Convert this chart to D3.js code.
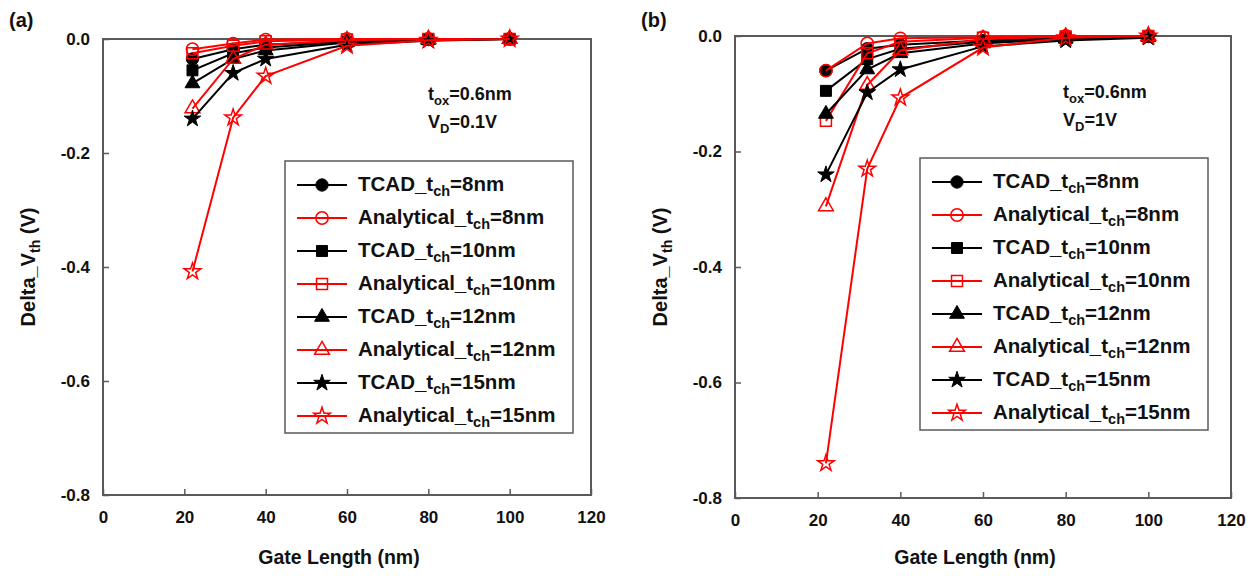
<!DOCTYPE html>
<html>
<head>
<meta charset="utf-8">
<script src="https://cdn.jsdelivr.net/npm/d3@7"></script>
<style>
  body { margin: 0; background: #fff; }
  text { font-family: "Liberation Sans", Arial, sans-serif; font-weight: bold; }
</style>
</head>
<body>
<div id="chart"></div>
<script>
// gate lengths (nm) shared by every series
const gateLength = [22, 32, 40, 60, 80, 100];

// panel (a): VD = 0.1V
const a_tcad8  = [-0.035, -0.018, -0.010, -0.004, -0.001, 0];
const a_ana8   = [-0.018, -0.008, -0.001, 0, 0, 0];
const a_tcad10 = [-0.055, -0.025, -0.015, -0.005, -0.001, 0];
const a_ana10  = [-0.025, -0.012, -0.004, -0.001, 0, 0];
const a_tcad12 = [-0.078, -0.035, -0.020, -0.006, -0.002, 0];
const a_ana12  = [-0.122, -0.035, -0.010, -0.002, 0, 0];
const a_tcad15 = [-0.140, -0.060, -0.035, -0.010, -0.003, 0];
const a_ana15  = [-0.408, -0.138, -0.065, -0.012, -0.002, 0];

// panel (b): VD = 1V
const b_tcad8  = [-0.060, -0.022, -0.015, -0.008, -0.003, -0.001];
const b_ana8   = [-0.060, -0.013, -0.004, -0.002, 0, 0];
const b_tcad10 = [-0.095, -0.040, -0.022, -0.010, -0.004, -0.001];
const b_ana10  = [-0.147, -0.030, -0.010, -0.003, -0.001, 0];
const b_tcad12 = [-0.135, -0.058, -0.030, -0.013, -0.005, -0.002];
const b_ana12  = [-0.295, -0.085, -0.025, -0.005, -0.001, 0];
const b_tcad15 = [-0.240, -0.098, -0.058, -0.018, -0.008, -0.003];
const b_ana15  = [-0.740, -0.230, -0.107, -0.020, -0.003, 0];

const seriesNames = ["TCAD", "Analytical", "TCAD", "Analytical", "TCAD", "Analytical", "TCAD", "Analytical"];
const seriesTch = ["8", "8", "10", "10", "12", "12", "15", "15"];
const xTicks = [0, 20, 40, 60, 80, 100, 120];
const yTicks = [0, -0.2, -0.4, -0.6, -0.8];

const W = 1253, H = 576;
const svg = d3.select("#chart").append("svg")
  .attr("width", W).attr("height", H);

const shapes = [d3.symbolCircle, d3.symbolCircle, d3.symbolSquare, d3.symbolSquare,
                d3.symbolTriangle, d3.symbolTriangle, d3.symbolStar, d3.symbolStar];
const sizes = [120, 120, 120, 120, 95, 95, 85, 85];
const fmtY = d => d3.format(".1f")(d).replace("\u2212", "-");

function drawPanel(o) {
  const g = svg.append("g");
  const x = d3.scaleLinear().domain([0, 120]).range([o.left, o.right]);
  const y = d3.scaleLinear().domain([-0.8, 0]).range([o.bottom, o.top]);

  // frame
  g.append("rect")
    .attr("x", o.left).attr("y", o.top)
    .attr("width", o.right - o.left).attr("height", o.bottom - o.top)
    .attr("fill", "none").attr("stroke", "#5a5a5a").attr("stroke-width", 2);

  // axes, ticks pointing inward
  const xa = g.append("g").attr("transform", `translate(0,${o.bottom})`)
    .call(d3.axisBottom(x).tickValues(xTicks).tickSizeInner(-6).tickSizeOuter(0).tickPadding(16).tickFormat(d3.format("d")));
  const ya = g.append("g").attr("transform", `translate(${o.left},0)`)
    .call(d3.axisLeft(y).tickValues(yTicks).tickSizeInner(-6).tickSizeOuter(0).tickPadding(13).tickFormat(fmtY));
  [xa, ya].forEach(a => {
    a.select(".domain").remove();
    a.selectAll(".tick line").attr("stroke", "#5a5a5a").attr("stroke-width", 1.5);
    a.selectAll(".tick text").attr("font-size", 17).attr("fill", "#111");
  });

  // series
  o.series.forEach((vals, i) => {
    const red = i % 2 === 1;
    const col = red ? "#ff0000" : "#000";
    const pts = gateLength.map((gl, k) => [gl, vals[k]]);
    g.append("path")
      .attr("d", d3.line().x(d => x(d[0])).y(d => y(d[1]))(pts))
      .attr("fill", "none").attr("stroke", col).attr("stroke-width", 2);
    g.selectAll(null).data(pts).join("path")
      .attr("transform", d => `translate(${x(d[0])},${y(d[1])})`)
      .attr("d", d3.symbol(shapes[i], sizes[i]))
      .attr("fill", red ? "none" : "#000")
      .attr("stroke", col).attr("stroke-width", red ? 1.5 : 1);
  });

  // legend
  const lg = g.append("g");
  lg.append("rect")
    .attr("x", o.legX).attr("y", o.legY)
    .attr("width", 288).attr("height", 272)
    .attr("fill", "#fff").attr("stroke", "#5a5a5a").attr("stroke-width", 1.5);
  seriesNames.forEach((nm, i) => {
    const red = i % 2 === 1;
    const col = red ? "#ff0000" : "#000";
    const yy = o.legY + 24 + i * 33;
    lg.append("line")
      .attr("x1", o.legX + 12).attr("x2", o.legX + 62)
      .attr("y1", yy).attr("y2", yy)
      .attr("stroke", col).attr("stroke-width", 2);
    lg.append("path")
      .attr("transform", `translate(${o.legX + 37},${yy})`)
      .attr("d", d3.symbol(shapes[i], sizes[i]))
      .attr("fill", red ? "none" : "#000")
      .attr("stroke", col).attr("stroke-width", red ? 1.5 : 1);
    const t = lg.append("text")
      .attr("x", o.legX + 73).attr("y", yy + 6)
      .attr("font-size", 20.5).attr("fill", "#111");
    t.append("tspan").text(nm + "_t");
    t.append("tspan").attr("font-size", 14.5).attr("dy", 5).text("ch");
    t.append("tspan").attr("dy", -5).text("=" + seriesTch[i] + "nm");
  });

  // conditions
  const c1 = g.append("text").attr("x", o.noteX).attr("y", o.noteY)
    .attr("font-size", 18).attr("fill", "#111");
  c1.append("tspan").text("t");
  c1.append("tspan").attr("font-size", 13).attr("dy", 5).text("ox");
  c1.append("tspan").attr("dy", -5).text("=0.6nm");
  const c2 = g.append("text").attr("x", o.noteX).attr("y", o.noteY + 28)
    .attr("font-size", 18).attr("fill", "#111");
  c2.append("tspan").text("V");
  c2.append("tspan").attr("font-size", 13).attr("dy", 5).text("D");
  c2.append("tspan").attr("dy", -5).text(o.vd);

  // axis titles
  g.append("text")
    .attr("x", (o.left + o.right) / 2 - 8).attr("y", 564)
    .attr("text-anchor", "middle").attr("font-size", 19.5).attr("fill", "#111")
    .text("Gate Length (nm)");
  const yt = g.append("text")
    .attr("transform", `translate(${o.left - 68},${(o.top + o.bottom) / 2}) rotate(-90)`)
    .attr("text-anchor", "middle").attr("font-size", 20).attr("fill", "#111");
  yt.append("tspan").text("Delta_V");
  yt.append("tspan").attr("font-size", 14).attr("dy", 5).text("th");
  yt.append("tspan").attr("dy", -5).text(" (V)");

  // panel tag
  g.append("text").attr("x", o.tagX).attr("y", 27)
    .attr("font-size", 20).attr("fill", "#111").text(o.tag);
}

drawPanel({
  left: 103, right: 591, top: 39, bottom: 495,
  series: [a_tcad8, a_ana8, a_tcad10, a_ana10, a_tcad12, a_ana12, a_tcad15, a_ana15],
  legX: 285, legY: 161, noteX: 428, noteY: 100, vd: "=0.1V", tag: "(a)", tagX: 9
});
drawPanel({
  left: 735, right: 1231, top: 36, bottom: 498,
  series: [b_tcad8, b_ana8, b_tcad10, b_ana10, b_tcad12, b_ana12, b_tcad15, b_ana15],
  legX: 920, legY: 158, noteX: 1063, noteY: 98, vd: "=1V", tag: "(b)", tagX: 641
});
</script>
</body>
</html>
